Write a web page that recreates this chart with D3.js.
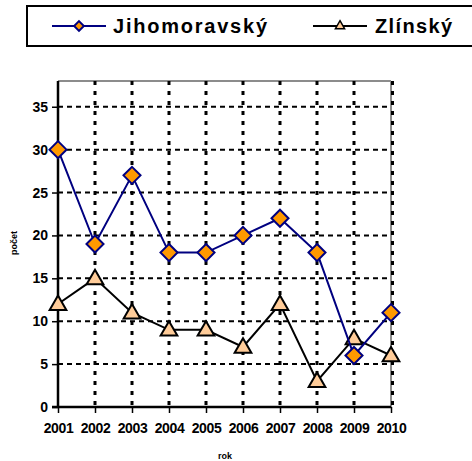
<!DOCTYPE html>
<html><head><meta charset="utf-8">
<script src="https://cdn.jsdelivr.net/npm/d3@7"></script>
<style>html,body{margin:0;padding:0;background:#fff;overflow:hidden}svg{display:block;font-family:Arial,"Liberation Sans",sans-serif}</style>
</head><body>
<svg id="c" width="472" height="461"></svg>
<script>
const years = ["2001","2002","2003","2004","2005","2006","2007","2008","2009","2010"];
const jihomoravsky = [30, 19, 27, 18, 18, 20, 22, 18, 6, 11];
const zlinsky = [12, 15, 11, 9, 9, 7, 12, 3, 8, 6];
const yTicks = [0, 5, 10, 15, 20, 25, 30, 35];
const seriesNames = ["Jihomoravský", "Zlínský"];

const svg = d3.select("#c");
const L = 58, R = 391, T = 81, B = 407;
const x = d3.scalePoint().domain(years).range([L, R]).padding(0);
const y = d3.scaleLinear().domain([0, 38]).range([B, T]);

// plot frame (top/right gray)
svg.append("line").attr("x1", L).attr("x2", R).attr("y1", T).attr("y2", T).attr("stroke", "#8c8c8c").attr("stroke-width", 2);
svg.append("line").attr("x1", R).attr("x2", R).attr("y1", T).attr("y2", B).attr("stroke", "#8c8c8c").attr("stroke-width", 2);

// horizontal grid
svg.append("g").selectAll("line").data(yTicks.filter(d => d > 0)).join("line")
  .attr("x1", L).attr("x2", R).attr("y1", d => y(d)).attr("y2", d => y(d))
  .attr("stroke", "#000").attr("stroke-width", 2).attr("stroke-dasharray", "5,4");
// vertical grid
svg.append("g").selectAll("line").data(years.slice(1)).join("line")
  .attr("x1", d => x(d) + (d === "2010" ? 1.5 : 0)).attr("x2", d => x(d) + (d === "2010" ? 1.5 : 0))
  .attr("y1", T).attr("y2", B)
  .attr("stroke", "#000").attr("stroke-width", 3).attr("stroke-dasharray", "4,6");

// axes
const yAxis = d3.axisLeft(y).tickValues(yTicks).tickSize(6).tickPadding(4);
const gy = svg.append("g").attr("transform", `translate(${L},0)`).call(yAxis);
gy.select(".domain").attr("stroke-width", 2.5).attr("d", `M0,${T}V${B}`);
gy.selectAll(".tick line").attr("stroke-width", 1.5);
gy.selectAll(".tick text").attr("font-size", 14).attr("font-weight", "bold").attr("font-family", "Arial,'Liberation Sans',sans-serif").attr("fill", "#000").attr("x", -10);

const xAxis = d3.axisBottom(x).tickSize(6).tickPadding(10);
const gx = svg.append("g").attr("transform", `translate(0,${B})`).call(xAxis);
gx.select(".domain").attr("stroke-width", 2.5).attr("d", `M${L - 6},0H${R}`);
gx.selectAll(".tick line").attr("stroke-width", 1.5);
gx.selectAll(".tick text").attr("font-size", 14).attr("font-weight", "bold").attr("font-family", "Arial,'Liberation Sans',sans-serif").attr("fill", "#000").attr("letter-spacing", "-0.4");

// axis titles
svg.append("text").attr("transform", "translate(17,243) rotate(-90)").attr("text-anchor", "middle")
  .attr("font-size", 9).attr("font-weight", "bold").text("počet");
svg.append("text").attr("x", 225).attr("y", 459).attr("text-anchor", "middle")
  .attr("font-size", 9).attr("font-weight", "bold").text("rok");

const diamond = d3.symbol().type(d3.symbolDiamond2);
const triangle = d3.symbol().type(d3.symbolTriangle2);

// Zlínský
const line = d3.line().x((d, i) => x(years[i])).y(d => y(d));
svg.append("path").datum(zlinsky).attr("d", line).attr("fill", "none").attr("stroke", "#000").attr("stroke-width", 2);
svg.append("g").selectAll("path").data(zlinsky).join("path")
  .attr("transform", (d, i) => `translate(${x(years[i])},${y(d) + 1})`)
  .attr("d", triangle.size(200)()).attr("fill", "#FFCC99").attr("stroke", "#000").attr("stroke-width", 2);

// Jihomoravský
svg.append("path").datum(jihomoravsky).attr("d", line).attr("fill", "none").attr("stroke", "#000080").attr("stroke-width", 2);
svg.append("g").selectAll("path").data(jihomoravsky).join("path")
  .attr("transform", (d, i) => `translate(${x(years[i])},${y(d)})`)
  .attr("d", diamond.size(185)()).attr("fill", "#FF9900").attr("stroke", "#000080").attr("stroke-width", 2);

// legend
svg.append("rect").attr("x", 27).attr("y", 6).attr("width", 470).attr("height", 40)
  .attr("fill", "#fff").attr("stroke", "#000").attr("stroke-width", 2);
const lg = svg.append("g");
lg.append("line").attr("x1", 52).attr("x2", 106).attr("y1", 26).attr("y2", 26).attr("stroke", "#000080").attr("stroke-width", 2);
lg.append("path").attr("transform", "translate(79,26)").attr("d", diamond.size(60)()).attr("fill", "#FF9900").attr("stroke", "#000080").attr("stroke-width", 2);
lg.append("text").attr("x", 113).attr("y", 33).attr("font-size", 20).attr("font-weight", "bold")
  .attr("textLength", 154).attr("lengthAdjust", "spacing").text(seriesNames[0]);
lg.append("line").attr("x1", 313).attr("x2", 367).attr("y1", 26).attr("y2", 26).attr("stroke", "#000").attr("stroke-width", 2);
lg.append("path").attr("transform", "translate(340,26)").attr("d", triangle.size(60)()).attr("fill", "#FFCC99").attr("stroke", "#000").attr("stroke-width", 1.5);
lg.append("text").attr("x", 375).attr("y", 33).attr("font-size", 20).attr("font-weight", "bold")
  .attr("textLength", 77).attr("lengthAdjust", "spacing").text(seriesNames[1]);
</script>
</body></html>
